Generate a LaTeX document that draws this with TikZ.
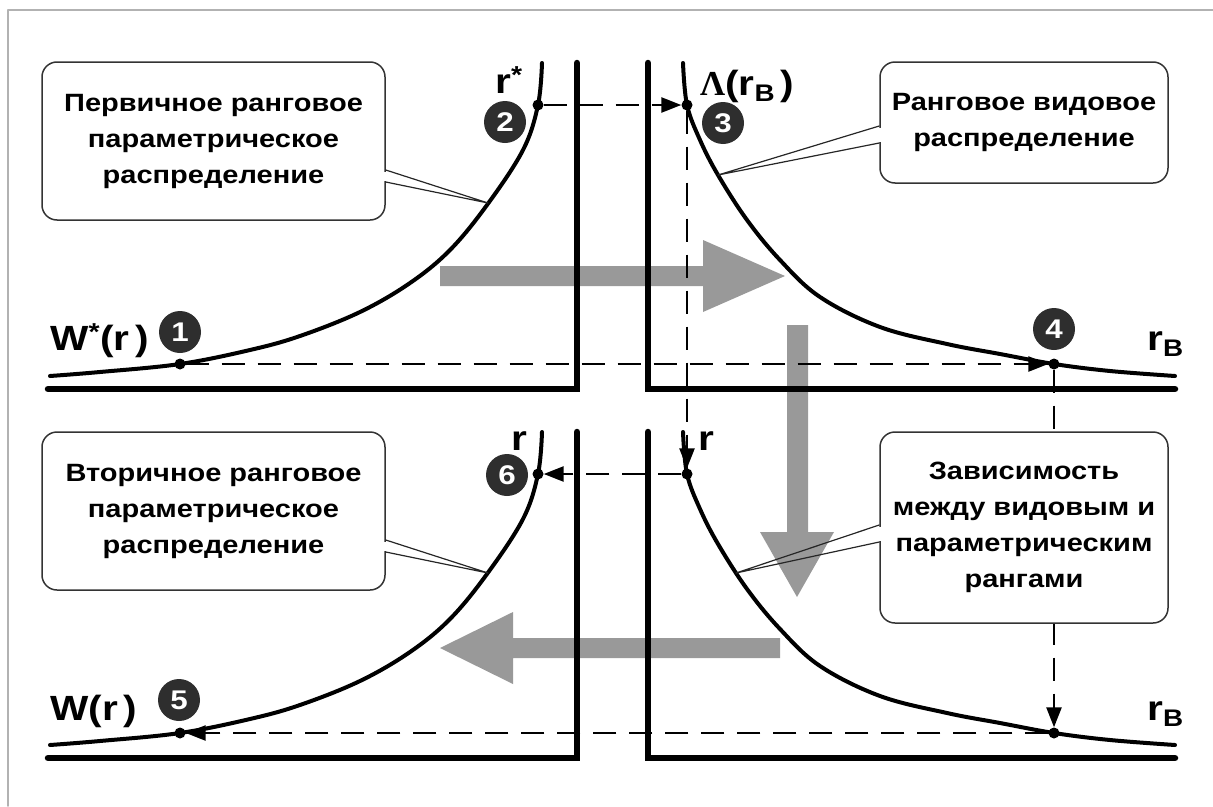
\documentclass[tikz,border=0pt]{standalone}
\usepackage{fontspec}
\setmainfont{Liberation Sans}[FakeStretch=1.16]
\newfontfamily\greekfont{Liberation Serif}
\usetikzlibrary{arrows.meta}
\tikzset{
  every picture/.style={line join=round, line cap=round, >=Stealth},
  axis/.style={line width=6.5pt, line join=miter},
  curve/.style={line width=4pt},
  guide/.style={line width=2.5pt, line cap=butt, dash pattern=on 23pt off 13pt, -{Triangle[length=20pt,width=15pt]}},
  dot/.style={circle, fill=black, inner sep=0pt, minimum size=11pt},
  badge/.style={circle, fill=black!82, text=white, inner sep=0pt, minimum size=42pt, font=\bfseries\fontsize{27}{27}\selectfont},
  lbl/.style={font=\bfseries\fontsize{35}{35}\selectfont, inner sep=0pt},
  callout/.style={draw=black!80, line width=1.5pt, fill=white, rounded corners=15pt, align=center, inner sep=0pt, font=\bfseries\fontsize{25}{36}\selectfont},
  pin/.style={line width=1.2pt, draw=black!85},
  gap/.style={white, line width=3pt, line cap=butt},
  flow/.style={fill=black!40},
}
\newcommand{\subB}{\raisebox{-0.35ex}{\fontsize{24}{24}\selectfont B}}

\begin{document}
\begin{tikzpicture}[x=1pt, y=-1pt]
\useasboundingbox (0,0) rectangle (1213,806);
\draw[black!30, line width=1.5pt] (8,806) -- (8,10) -- (1213,10);

% grey flow arrows
\fill[flow] (440,266) -- (703,266) -- (703,240) -- (785,276) -- (703,312) -- (703,286) -- (440,286) -- cycle;
\fill[flow] (787,325) -- (808,325) -- (808,532) -- (834,532) -- (797,597) -- (760,532) -- (787,532) -- cycle;
\fill[flow] (780,638) -- (513,638) -- (513,612) -- (440,648) -- (513,684) -- (513,658) -- (780,658) -- cycle;

% axes and curves, upper and lower row
\foreach \dy in {0,369}{
  \begin{scope}[shift={(0,\dy)}]
    \draw[axis] (48,389) -- (577,389) -- (577,63);
    \draw[axis] (648,63) -- (648,389) -- (1175,389);
    \draw[curve] plot[smooth, tension=0.6] coordinates {(542,63) (538,105) (523,150) (487,205) (450,250) (410,283) (360,312) (300,336) (250,350) (180,364) (100,372) (50,376)};
    \draw[curve] plot[smooth, tension=0.6] coordinates {(683,63) (687,105) (700,140) (718,175) (747,220) (780,260) (820,297) (880,327) (947,344) (1000,354) (1054,364) (1110,371) (1175,376)};
  \end{scope}
}

% points on the curves
\node[dot] (p1) at (180,364) {};
\node[dot] (p2) at (538,105) {};
\node[dot] (p3) at (687,105) {};
\node[dot] (p4) at (1054,364) {};
\node[dot] (p5) at (180,733) {};
\node[dot] (p6) at (538,474) {};
\node[dot] (p7) at (687,474) {};
\node[dot] (p8) at (1054,733) {};

% dashed guides
\draw[guide] (p1) -- (p4);
\draw[guide] (p2) -- (p3);
\draw[guide] (p3) -- (p7);
\draw[guide] (p4) -- (p8);
\draw[guide] (p7) -- (p6);
\draw[guide] (p8) -- (p5);

% numbered badges
\node[badge] (n1) at (180,332) {1};
\node[badge] (n2) at (505,122) {2};
\node[badge] (n3) at (723,123) {3};
\node[badge] (n4) at (1054,329) {4};
\node[badge] (n5) at (179,700) {5};
\node[badge] (n6) at (507,475) {6};

% axis labels
\node[lbl, anchor=base west] (wstar) at (50,350) {W\textsuperscript{*}(r\,)};
\node[lbl, anchor=base west] (w) at (50,720) {W(r\,)};
\node[lbl, anchor=base west] (rstar) at (495,93) {r\textsuperscript{*}};
\node[lbl, anchor=base west] (lam) at (700,95) {{\greekfont Λ}(r\subB\,)};
\node[lbl, anchor=base west] (rl) at (511,450) {r};
\node[lbl, anchor=base west] (rr) at (698,450) {r};
\node[lbl, anchor=base west] (rbt) at (1147,350) {r\subB};
\node[lbl, anchor=base west] (rbb) at (1147,720) {r\subB};

% callouts
\coordinate (t1) at (488,203);
\coordinate (t2) at (718,175);
\coordinate (t3) at (488,573);
\coordinate (t4) at (736,573);

\node[callout, minimum width=343pt, minimum height=158pt] (primbox) at (213.5,141) {Первичное ранговое\\параметрическое\\распределение};
\draw[gap] ([yshift=-30.5pt]primbox.east) -- ([yshift=-39.5pt]primbox.east);
\draw[pin] ([yshift=-29pt]primbox.east) -- (t1) -- ([yshift=-41pt]primbox.east);

\node[callout, minimum width=288pt, minimum height=121pt] (specbox) at (1024,122.5) {Ранговое видовое\\распределение};
\draw[gap] ([yshift=-5pt]specbox.west) -- ([yshift=-19pt]specbox.west);
\draw[pin] ([yshift=-3.5pt]specbox.west) -- (t2) -- ([yshift=-20.5pt]specbox.west);

\node[callout, minimum width=343pt, minimum height=158pt] (secbox) at (213.5,511) {Вторичное ранговое\\параметрическое\\распределение};
\draw[gap] ([yshift=-30.5pt]secbox.east) -- ([yshift=-39.5pt]secbox.east);
\draw[pin] ([yshift=-29pt]secbox.east) -- (t3) -- ([yshift=-41pt]secbox.east);

\node[callout, minimum width=288pt, minimum height=191pt] (depbox) at (1024,527.5) {Зависимость\\между видовым и\\параметрическим\\рангами};
\draw[gap] ([yshift=1pt]depbox.west) -- ([yshift=-13pt]depbox.west);
\draw[pin] ([yshift=2.5pt]depbox.west) -- (t4) -- ([yshift=-14.5pt]depbox.west);
\end{tikzpicture}
\end{document}
